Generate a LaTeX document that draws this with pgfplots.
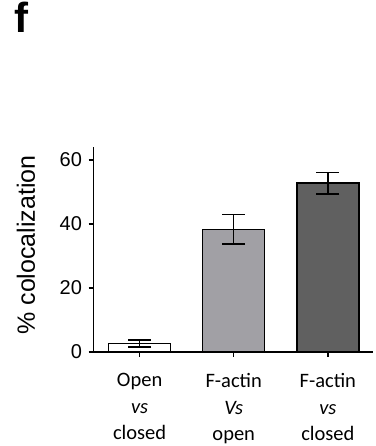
\documentclass[border=0pt]{standalone}
\usepackage{pgfplots}
\pgfplotsset{compat=1.18}
\usepackage{fontspec}
\setmainfont{Liberation Sans}
\newfontfamily\cat{Carlito}
\definecolor{barA}{RGB}{255,255,255}
\definecolor{barB}{RGB}{161,160,165}
\definecolor{barC}{RGB}{96,96,96}
\begin{document}
\begin{tikzpicture}[x=1bp,y=1bp]
\path[use as bounding box] (0,0) rectangle (375,446);
\node[anchor=base west,inner sep=0pt,font=\fontsize{42bp}{42bp}\selectfont\bfseries] at (14,413) {f};
\begin{axis}[
  at={(93.5bp,94bp)}, anchor=south west,
  scale only axis, width=279.5bp, height=205bp,
  xmin=-0.49, xmax=2.48, ymin=0, ymax=64,
  axis x line*=bottom, axis y line*=left,
  axis line style={line width=1.5pt,-},
  tick style={line width=1.4pt,black},
  major tick length=5bp,
  tick align=outside,
  xtick={0,1,2},
  xticklabels={{Open\\\textit{vs}\\closed},{F-actin\\\textit{Vs}\\open},{F-actin\\\textit{vs}\\closed}},
  xticklabel style={align=center,font=\cat\fontsize{20.5bp}{26.5bp}\selectfont,yshift=-13bp},
  ytick={0,20,40,60},
  yticklabel style={font=\fontsize{20bp}{20bp}\selectfont,xshift=-3bp},
  /pgf/number format/assume math mode=true,
  ylabel={\% colocalization},
  ylabel style={font=\fontsize{25bp}{25bp}\selectfont, at={(axis description cs:-0.2093,0.522)}, anchor=base, rotate=0},
  ybar, bar width=62bp, bar shift=0pt,
  every axis plot/.append style={draw=black, line width=1.5pt},
  error bars/error bar style={line width=1.5pt,black},
  error bars/error mark options={rotate=90,mark size=11.5bp,line width=1.5pt,black},
]
\addplot[fill=barA,error bars/.cd,y dir=both,y explicit] coordinates {(0,2.7) +- (0,1.1)};
\addplot[fill=barB,error bars/.cd,y dir=both,y explicit] coordinates {(1,38.3) +- (0,4.6)};
\addplot[fill=barC,error bars/.cd,y dir=both,y explicit] coordinates {(2,52.7) +- (0,3.3)};
\end{axis}
\end{tikzpicture}
\end{document}
